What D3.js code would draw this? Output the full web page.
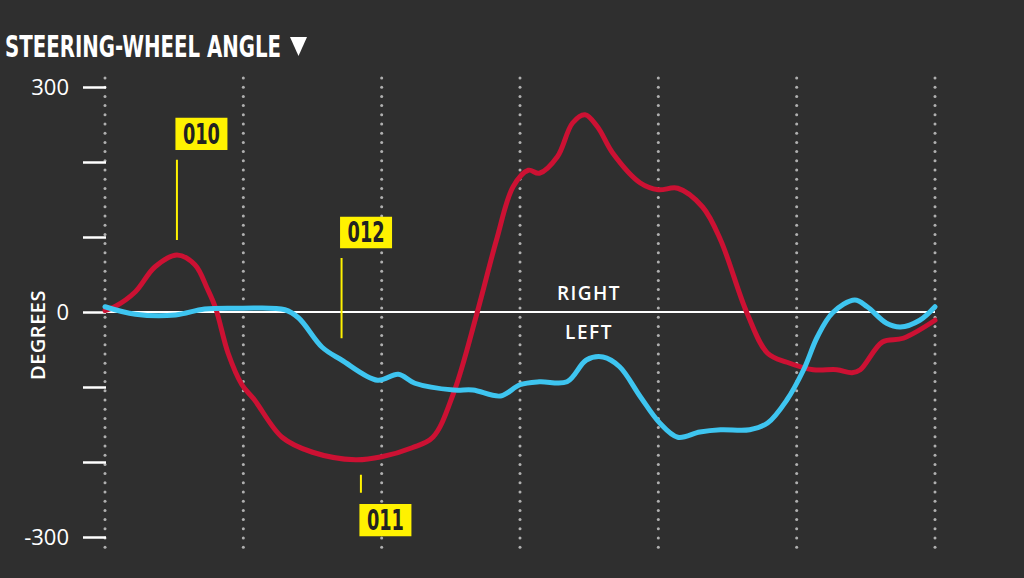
<!DOCTYPE html>
<html>
<head>
<meta charset="utf-8">
<script src="https://cdn.jsdelivr.net/npm/d3@7"></script>
<style>
  html, body { margin: 0; padding: 0; background: #2f2f2f; }
  svg { display: block; }
</style>
</head>
<body>
<svg id="chart" width="1024" height="578"></svg>
<script>
// ---- data ----
const title = "STEERING-WHEEL ANGLE";
const yAxisTitle = "DEGREES";
const yTickValues = [300, 200, 100, 0, -100, -200, -300];
const yTickLabels = ["300", "", "", "0", "", "", "-300"];
const xGridValues = [0, 1, 2, 3, 4, 5, 6];

const redT = [0, 0.07, 0.22, 0.36, 0.52, 0.65, 0.74, 0.80, 0.89, 0.99, 1.08, 1.28, 1.50, 1.81, 2.00, 2.22, 2.37, 2.52, 2.69, 2.83, 2.95, 3.06, 3.14, 3.27, 3.38, 3.47, 3.56, 3.67, 3.87, 4.00, 4.14, 4.32, 4.45, 4.64, 4.79, 4.93, 5.12, 5.29, 5.40, 5.46, 5.62, 5.77, 6.0];
const redV = [2, 7, 27, 60, 76, 63, 31, 5, -55, -97, -117, -167, -187, -197, -193, -181, -167, -108, -1, 96, 167, 189, 185, 207, 252, 263, 247, 212, 172, 163, 165, 140, 96, -1, -55, -67, -77, -77, -81, -77, -40, -35, -11];

const blueT = [0, 0.22, 0.51, 0.72, 0.99, 1.30, 1.40, 1.57, 1.71, 1.97, 2.12, 2.24, 2.52, 2.66, 2.86, 3.00, 3.14, 3.34, 3.48, 3.60, 3.72, 3.87, 4.01, 4.14, 4.30, 4.45, 4.66, 4.79, 4.93, 5.05, 5.15, 5.26, 5.42, 5.51, 5.65, 5.75, 5.89, 6.0];
const blueV = [7, -3, -4, 4, 5, 3, -8, -47, -64, -91, -83, -95, -104, -104, -112, -97, -93, -93, -64, -60, -73, -113, -148, -167, -160, -157, -157, -148, -117, -77, -33, -1, 16, 7, -15, -20, -11, 7];

const annotLabels = ["010", "012", "011"];
const annotT = [0.52, 1.71, 1.85];
const annotLeaderTop = [203, 72, -217];
const annotLeaderBottom = [96, -35, -241];
const annotBoxTop = [259, 127, -256];
const annotBoxBottom = [216, 85, -299];

const sideLabels = ["RIGHT", "LEFT"];

// ---- layout ----
const svg = d3.select("#chart");
const W = 1024, H = 578;
svg.append("rect").attr("width", W).attr("height", H).attr("fill", "#2f2f2f");

const x = d3.scaleLinear().domain([0, 6]).range([105, 935]);
const y = d3.scaleLinear().domain([-300, 300]).range([537, 87]);

// title
svg.append("text")
  .attr("x", 5).attr("y", 57)
  .attr("fill", "#ffffff")
  .attr("font-family", "'DejaVu Sans Condensed', 'Liberation Sans Narrow', 'Liberation Sans', sans-serif")
  .attr("font-weight", "bold")
  .attr("font-size", 31)
  .attr("textLength", 276)
  .attr("lengthAdjust", "spacingAndGlyphs")
  .text(title);
svg.append("path")
  .attr("d", "M290,37 L307,37 L298.5,56 Z")
  .attr("fill", "#ffffff");

// vertical dotted gridlines
const gridG = svg.append("g");
xGridValues.forEach(v => {
  const gx = x(v);
  const dots = d3.range(78, 548, 9.2);
  gridG.selectAll(null).data(dots).enter().append("circle")
    .attr("cx", gx).attr("cy", d => d).attr("r", 1.5)
    .attr("fill", "#b0b0b0");
});

// y axis
const yAxis = d3.axisLeft(y)
  .tickValues(yTickValues)
  .tickSize(23)
  .tickPadding(14)
  .tickFormat((d, i) => yTickLabels[i]);
const yg = svg.append("g").attr("transform", "translate(106,0)").call(yAxis);
yg.select(".domain").remove();
yg.selectAll(".tick line").attr("stroke", "#ffffff").attr("stroke-width", 2.5);
yg.selectAll(".tick text")
  .attr("fill", "#ffffff")
  .attr("font-family", "'Open Sans', 'Liberation Sans', sans-serif")
  .attr("font-size", 22);

svg.append("text")
  .attr("transform", "translate(45,335) rotate(-90)")
  .attr("text-anchor", "middle")
  .attr("fill", "#ffffff")
  .attr("font-family", "'Open Sans', 'Liberation Sans', sans-serif")
  .attr("font-weight", 600)
  .attr("font-size", 20)
  .attr("letter-spacing", 0.5)
  .text(yAxisTitle);

// zero line
svg.append("line")
  .attr("x1", x(0)).attr("x2", x(6))
  .attr("y1", y(0)).attr("y2", y(0))
  .attr("stroke", "#ffffff").attr("stroke-width", 2);

// RIGHT / LEFT
svg.append("text")
  .attr("x", 589).attr("y", y(0) - 12)
  .attr("text-anchor", "middle").attr("fill", "#ffffff")
  .attr("font-family", "'Open Sans', 'Liberation Sans', sans-serif")
  .attr("font-weight", 600).attr("font-size", 19).attr("letter-spacing", 1.5)
  .text(sideLabels[0]);
svg.append("text")
  .attr("x", 589).attr("y", y(0) + 27)
  .attr("text-anchor", "middle").attr("fill", "#ffffff")
  .attr("font-family", "'Open Sans', 'Liberation Sans', sans-serif")
  .attr("font-weight", 600).attr("font-size", 19).attr("letter-spacing", 1.5)
  .text(sideLabels[1]);

// lines
const line = d3.line().curve(d3.curveCatmullRom.alpha(0.5));
const redPts = redT.map((t, i) => [x(t), y(redV[i])]);
const bluePts = blueT.map((t, i) => [x(t), y(blueV[i])]);

svg.append("path").attr("d", line(redPts))
  .attr("fill", "none").attr("stroke", "#cc1133").attr("stroke-width", 5)
  .attr("stroke-linecap", "round").attr("stroke-linejoin", "round");
svg.append("path").attr("d", line(bluePts))
  .attr("fill", "none").attr("stroke", "#3ec5f0").attr("stroke-width", 5)
  .attr("stroke-linecap", "round").attr("stroke-linejoin", "round");

// annotations
annotLabels.forEach((lab, i) => {
  const ax = x(annotT[i]);
  svg.append("line")
    .attr("x1", ax).attr("x2", ax)
    .attr("y1", y(annotLeaderTop[i])).attr("y2", y(annotLeaderBottom[i]))
    .attr("stroke", "#fff200").attr("stroke-width", 2);
  const bt = y(annotBoxTop[i]), bb = y(annotBoxBottom[i]);
  svg.append("rect")
    .attr("x", ax - 1.5).attr("y", bt)
    .attr("width", 52).attr("height", bb - bt)
    .attr("fill", "#fff200");
  svg.append("text")
    .attr("x", ax - 1.5 + 26).attr("y", bb - 6)
    .attr("text-anchor", "middle")
    .attr("fill", "#222222")
    .attr("font-family", "'DejaVu Sans Condensed', 'Liberation Sans Narrow', 'Liberation Sans', sans-serif")
    .attr("font-weight", "bold")
    .attr("font-size", 29)
    .attr("textLength", 37)
    .attr("lengthAdjust", "spacingAndGlyphs")
    .text(lab);
});
</script>
</body>
</html>
